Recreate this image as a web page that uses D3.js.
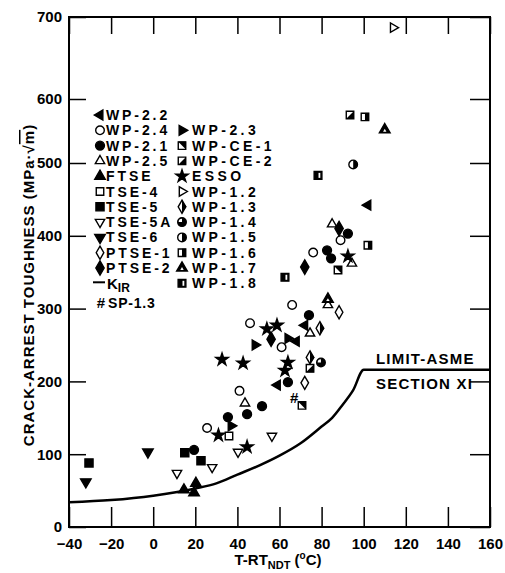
<!DOCTYPE html>
<html lang="en">
<head>
<meta charset="UTF-8">
<title>Crack-Arrest Toughness vs T-RTNDT</title>
<script src="https://cdn.jsdelivr.net/npm/d3@7"></script>
<style>
    body { margin: 0; background: #fff; }
    svg text { font-family: "Liberation Sans", Arial, sans-serif; font-weight: bold; fill: #000; }
</style>
</head>
<body>
<div id="chart"></div>
<script>
// axis ticks
const xTicks = [-40, -20, 0, 20, 40, 60, 80, 100, 120, 140, 160];
const yTicks = [0, 100, 200, 300, 400, 500, 600, 700];

// data: [T-RTndt (C), K (MPa*sqrt(m))]
const wp22 = [[68, 255], [59, 195], [72, 277], [102, 442]];
const wp24 = [[25.6, 136], [41, 187], [61, 247], [46, 280], [66, 305], [76, 377], [89, 394]];
const wp21 = [[19.4, 106], [35.5, 151], [44.6, 155], [51.7, 166], [64, 199], [74, 291], [82.6, 380], [84.5, 369], [92.5, 403]];
const wp25 = [[43.6, 170], [74.5, 266], [83, 305], [94.4, 362], [85, 416]];
const ftse = [[14.6, 51], [19.4, 47], [20.3, 60]];
const tse4 = [[36, 125]];
const tse5 = [[-30.5, 88], [15, 102], [22.7, 91]];
const tse5a = [[11.3, 74], [28, 82], [40.3, 103], [56.4, 125]];
const tse6 = [[-32, 62], [-2.5, 103]];
const ptse1 = [[72, 198], [88.3, 295]];
const ptse2 = [[56, 258], [72, 357], [88.3, 410]];
const sp13 = [[67, 177]];
const wp23 = [[37, 139], [48.4, 250], [64, 259]];
const wpce1 = [[70.7, 167], [87.8, 353]];
const wpce2 = [[74.5, 218], [93.5, 575]];
const esso = [[31, 126], [44.6, 110], [32.7, 230], [42.7, 225], [54, 272], [58.8, 277], [64, 226], [62.6, 215], [92.5, 372]];
const wp12 = [[114, 687]];
const wp13 = [[74.5, 233], [79.2, 273]];
const wp14 = [[79.7, 226]];
const wp15 = [[95, 498]];
const wp16 = [[102, 387], [100.6, 572]];
const wp17 = [[83, 313], [110, 552]];
const wp18 = [[62.6, 343], [78.3, 483]];

// K_IR reference curve with ASME Section XI limit
const kirCurve = [[-40, 34], [-20, 37], [0, 43], [20, 53], [30, 60], [40, 72], [50, 84], [60, 98], [70, 115],
                  [80, 138], [85, 150], [90, 168], [95, 188], [100, 216], [160, 216]];

// legend columns
const legendCol1 = [
    ["WP-2.2", "triL", wp22], ["WP-2.4", "circleOpen", wp24], ["WP-2.1", "circleFill", wp21],
    ["WP-2.5", "triUpOpen", wp25], ["FTSE", "triUpFill", ftse], ["TSE-4", "squareOpen", tse4],
    ["TSE-5", "squareFill", tse5], ["TSE-5A", "triDownOpen", tse5a], ["TSE-6", "triDownFill", tse6],
    ["PTSE-1", "diamondOpen", ptse1], ["PTSE-2", "diamondFill", ptse2]
];
const legendCol2 = [
    ["WP-2.3", "triR", wp23], ["WP-CE-1", "ce1", wpce1], ["WP-CE-2", "ce2", wpce2],
    ["ESSO", "star", esso], ["WP-1.2", "triROpen", wp12], ["WP-1.3", "halfDiamond", wp13],
    ["WP-1.4", "circle34", wp14], ["WP-1.5", "circleHalf", wp15], ["WP-1.6", "sqHalf", wp16],
    ["WP-1.7", "triInner", wp17], ["WP-1.8", "sqStripe", wp18]
];

const width = 505, height = 573;
const svg = d3.select("#chart").append("svg")
    .attr("width", width)
    .attr("height", height);

const x = d3.scaleLinear().domain([-40, 160]).range([69, 490]);
// the scanned figure has its 600 tick slightly low, so use a piecewise scale
const y = d3.scaleLinear().domain([0, 500, 600, 700]).range([527, 163, 99, 17]);

// axes with inward ticks
svg.append("g")
    .attr("transform", "translate(69,0)")
    .call(d3.axisLeft(y).tickValues(yTicks).tickSizeInner(-17).tickSizeOuter(0).tickPadding(7))
    .call(g => g.select(".domain").remove())
    .call(g => g.selectAll("text").style("font-size", "15px"));
svg.append("g")
    .attr("transform", "translate(0,527)")
    .call(d3.axisBottom(x).tickValues(xTicks).tickSizeInner(-20).tickSizeOuter(0).tickPadding(11))
    .call(g => g.select(".domain").remove())
    .call(g => g.selectAll("text").style("font-size", "15px"));
svg.append("g")
    .attr("transform", "translate(0,17)")
    .call(d3.axisTop(x).tickValues(xTicks).tickSizeInner(-17).tickSizeOuter(0).tickFormat(""))
    .call(g => g.select(".domain").remove());
svg.append("g")
    .attr("transform", "translate(490,0)")
    .call(d3.axisRight(y).tickValues(yTicks).tickSizeInner(-20).tickSizeOuter(0).tickFormat(""))
    .call(g => g.select(".domain").remove());
svg.selectAll(".tick line").attr("stroke", "#000").attr("stroke-width", 1.5);

svg.append("rect")
    .attr("x", 69).attr("y", 17)
    .attr("width", 421).attr("height", 510)
    .attr("fill", "none")
    .attr("stroke", "#000")
    .attr("stroke-width", 2);

// K_IR curve
const line = d3.line()
    .x(d => x(d[0]))
    .y(d => y(d[1]))
    .curve(d3.curveMonotoneX);
svg.append("path")
    .datum(kirCurve)
    .attr("d", line)
    .attr("fill", "none")
    .attr("stroke", "#000")
    .attr("stroke-width", 2.5);

svg.append("text").attr("x", 376).attr("y", 364)
    .style("font-size", "15px").style("letter-spacing", "1.2px")
    .text("LIMIT-ASME");
svg.append("text").attr("x", 376).attr("y", 389)
    .style("font-size", "15px").style("letter-spacing", "1.2px")
    .text("SECTION XI");

// marker drawing
function drawMarker(g, type) {
    const sym = (t, size, rot, fill) => g.append("path")
        .attr("d", d3.symbol(t, size)())
        .attr("transform", rot ? `rotate(${rot})` : null)
        .attr("fill", fill)
        .attr("stroke", "#000")
        .attr("stroke-width", 1.4);
    const r = 4.3, s = 4;
    switch (type) {
        case "triL": sym(d3.symbolTriangle, 42, -90, "#000"); break;
        case "triR": sym(d3.symbolTriangle, 42, 90, "#000"); break;
        case "triROpen": sym(d3.symbolTriangle, 38, 90, "#fff"); break;
        case "triUpOpen": sym(d3.symbolTriangle, 38, 0, "#fff"); break;
        case "triUpFill": sym(d3.symbolTriangle, 48, 0, "#000"); break;
        case "triDownOpen": sym(d3.symbolTriangle, 38, 180, "#fff"); break;
        case "triDownFill": sym(d3.symbolTriangle, 48, 180, "#000"); break;
        case "circleOpen": sym(d3.symbolCircle, 58, 0, "#fff"); break;
        case "circleFill": sym(d3.symbolCircle, 62, 0, "#000"); break;
        case "squareOpen": sym(d3.symbolSquare, 56, 0, "#fff"); break;
        case "squareFill": sym(d3.symbolSquare, 66, 0, "#000"); break;
        case "diamondOpen": sym(d3.symbolDiamond, 50, 0, "#fff"); break;
        case "diamondFill": sym(d3.symbolDiamond, 60, 0, "#000"); break;
        case "star": sym(d3.symbolStar, 48, 0, "#000"); break;
        case "ce1":
            sym(d3.symbolSquare, 56, 0, "#fff");
            g.append("path").attr("d", `M${-s},${-s}L${s},${-s}L${s},${s}Z`).attr("fill", "#000");
            break;
        case "ce2":
            sym(d3.symbolSquare, 56, 0, "#fff");
            g.append("path").attr("d", `M${s},${-s}L${s},${s}L${-s},${s}Z`).attr("fill", "#000");
            break;
        case "halfDiamond":
            sym(d3.symbolDiamond, 50, 0, "#fff");
            g.append("path").attr("d", "M0,-6L4.5,0L0,6Z").attr("fill", "#000");
            break;
        case "circle34":
            sym(d3.symbolCircle, 58, 0, "#000");
            g.append("path").attr("d", `M0,0L${-r + 1},0A${r - 1},${r - 1} 0 0 1 0,${-r + 1}Z`).attr("fill", "#fff");
            break;
        case "circleHalf":
            sym(d3.symbolCircle, 58, 0, "#fff");
            g.append("path").attr("d", `M0,${-r}A${r},${r} 0 0 1 0,${r}Z`).attr("fill", "#000");
            break;
        case "sqHalf":
            sym(d3.symbolSquare, 56, 0, "#fff");
            g.append("rect").attr("x", 0).attr("y", -s).attr("width", s).attr("height", 2 * s).attr("fill", "#000");
            break;
        case "sqStripe":
            sym(d3.symbolSquare, 60, 0, "#000");
            g.append("rect").attr("x", 0.5).attr("y", -2.5).attr("width", 1.8).attr("height", 5).attr("fill", "#fff");
            break;
        case "triInner":
            sym(d3.symbolTriangle, 50, 0, "#000");
            g.append("path").attr("d", d3.symbol(d3.symbolTriangle, 5)()).attr("fill", "#fff").attr("transform", "translate(0,1)");
            break;
        case "hash":
            g.append("text").attr("text-anchor", "middle").attr("dy", "0.35em")
                .style("font-size", "15px").text("#");
            break;
    }
}

// data points
const allSeries = legendCol1.concat(legendCol2).concat([["SP-1.3", "hash", sp13]]);
allSeries.forEach(([name, type, pts]) => {
    pts.forEach(p => {
        const g = svg.append("g").attr("transform", `translate(${x(p[0])},${y(p[1])})`);
        drawMarker(g, type);
    });
});

// legend
const rowY = i => 115 + i * 15.3;
const legendFont = "14px";
legendCol1.forEach(([name, type], i) => {
    drawMarker(svg.append("g").attr("transform", `translate(100,${rowY(i)})`), type);
    svg.append("text").attr("x", 106).attr("y", rowY(i)).attr("dy", "0.36em")
        .style("font-size", legendFont).style("letter-spacing", "2.9px").text(name);
});
legendCol2.forEach(([name, type], i) => {
    drawMarker(svg.append("g").attr("transform", `translate(182,${rowY(i + 1)})`), type);
    svg.append("text").attr("x", 192).attr("y", rowY(i + 1)).attr("dy", "0.36em")
        .style("font-size", legendFont).style("letter-spacing", "3.4px").text(name);
});
// K_IR legend line
svg.append("line")
    .attr("x1", 93).attr("x2", 105)
    .attr("y1", rowY(11) - 1).attr("y2", rowY(11) - 1)
    .attr("stroke", "#000").attr("stroke-width", 2);
const kirText = svg.append("text").attr("x", 107).attr("y", rowY(11)).attr("dy", "0.36em")
    .style("font-size", "15px");
kirText.append("tspan").text("K");
kirText.append("tspan").attr("dy", "3").style("font-size", "12px").text("IR");
// SP-1.3 legend
drawMarker(svg.append("g").attr("transform", `translate(101,303)`), "hash");
svg.append("text").attr("x", 108).attr("y", 303).attr("dy", "0.36em")
    .style("font-size", "14px").style("letter-spacing", "0.8px").text("SP-1.3");

// axis titles
const xTitle = svg.append("text").attr("x", 278).attr("y", 565)
    .attr("text-anchor", "middle").style("font-size", "15px");
xTitle.append("tspan").text("T-RT");
xTitle.append("tspan").attr("dy", 4).style("font-size", "11px").text("NDT");
xTitle.append("tspan").attr("dy", -4).text(" (");
xTitle.append("tspan").attr("dy", -6).style("font-size", "10px").text("o");
xTitle.append("tspan").attr("dy", 6).text("C)");

const yTitle = svg.append("text")
    .attr("transform", "translate(34,285) rotate(-90)")
    .attr("text-anchor", "middle")
    .style("font-size", "15px")
    .style("letter-spacing", "1px");
yTitle.append("tspan").text("CRACK-ARREST TOUGHNESS (MPa\u00b7\u221a");
yTitle.append("tspan").style("text-decoration", "overline").text("m");
yTitle.append("tspan").text(")");
</script>
</body>
</html>
